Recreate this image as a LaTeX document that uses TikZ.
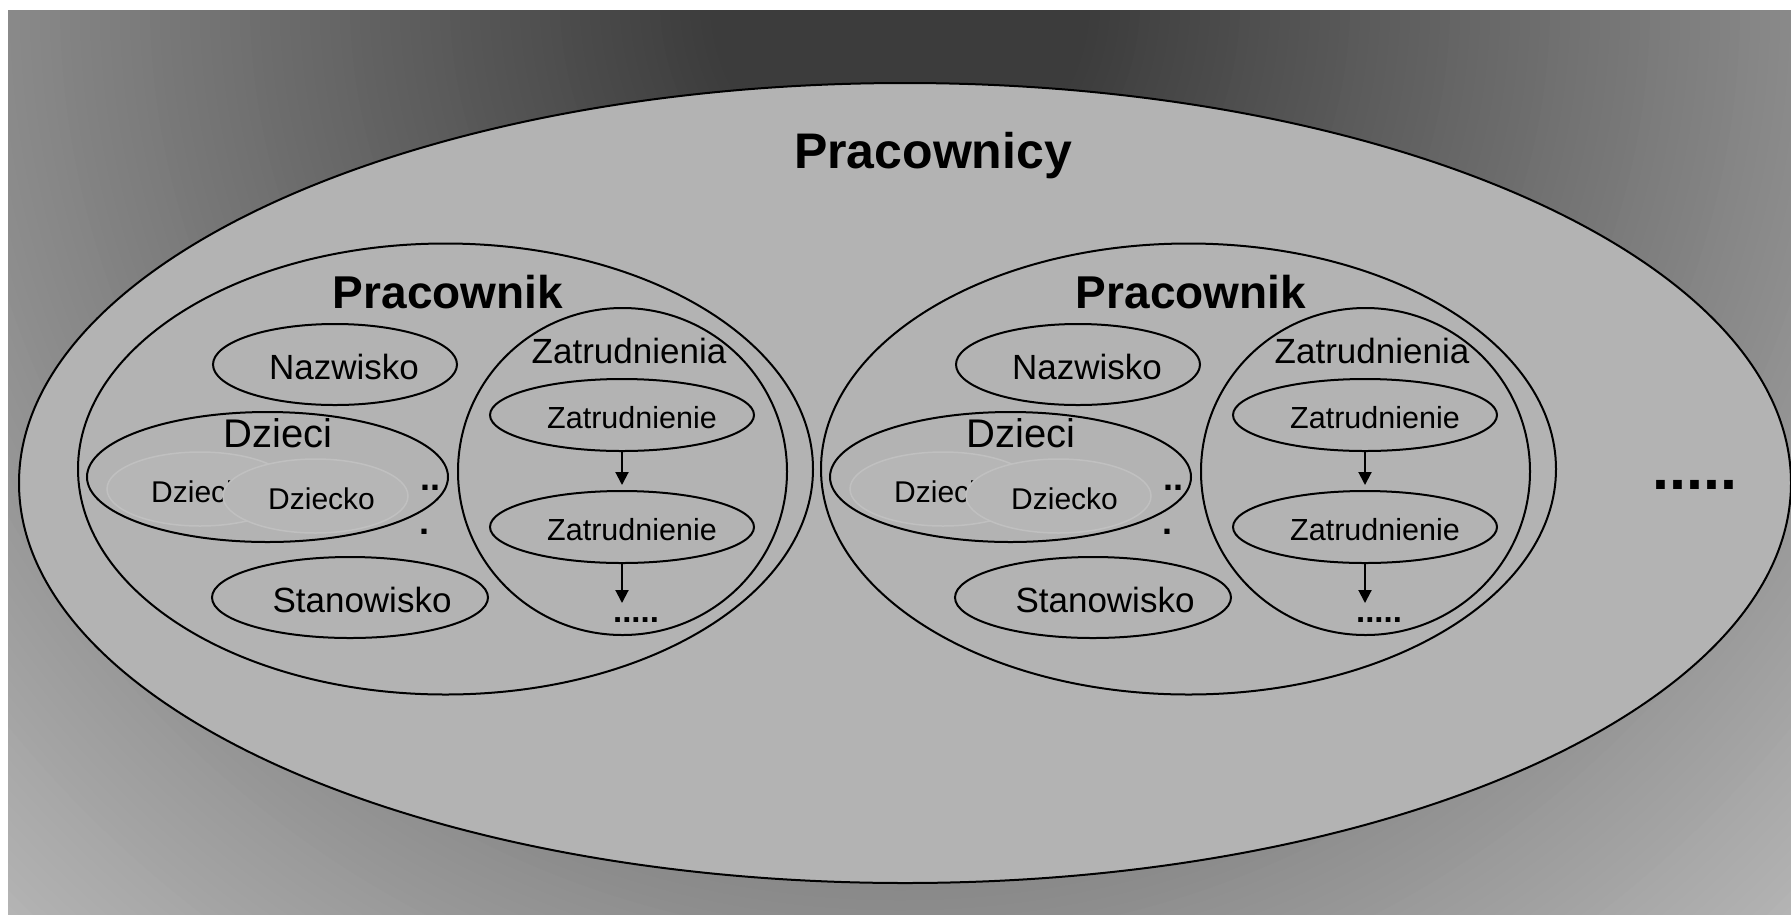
\documentclass[tikz,border=0pt]{standalone}
\usepackage{fontspec}
\setmainfont{Liberation Sans}
\usetikzlibrary{shapes.geometric,arrows.meta}
\definecolor{fillg}{HTML}{B3B3B3}
\definecolor{kidfill}{HTML}{B6B6B6}
\definecolor{kidline}{HTML}{C0C0C0}
\begin{document}
\begin{tikzpicture}[x=1pt,y=-1pt,
  ell/.style={ellipse, draw=black, line width=2pt, fill=fillg, inner sep=0pt, outer sep=0pt},
  kid/.style={ellipse, draw=kidline, line width=1.5pt, fill=kidfill, inner sep=0pt, outer sep=0pt},
  lbl/.style={inner sep=0pt, anchor=base, text=black},
  arr/.style={line width=2pt, -{Triangle[width=13pt,length=13pt]}}]
\fill[white] (0,0) rectangle (1791,914);
\useasboundingbox (0,0) rectangle (1791,914);
\begin{scope}
\clip (8,10) rectangle (1791,914);
\foreach \r in {1500,1490,...,10}{
  \pgfmathsetmacro{\g}{min(180,max(60,39+0.11*\r))/255}
  \definecolor{ringc}{gray}{\g}
  \fill[ringc] (900,0) circle[radius=\r pt];
}
\node[ell, minimum width=1772pt, minimum height=800pt] (all) at (905,483) {};
\node[lbl, font=\fontsize{50pt}{60pt}\selectfont\bfseries] (title) at (933,168) {Pracownicy};
\foreach \o/\s in {0/L,743/R}{
  \node[ell, minimum width=735pt, minimum height=451pt] (prac\s) at (445.5+\o,469) {};
  \node[lbl, font=\fontsize{46pt}{55pt}\selectfont\bfseries] (pracT\s) at (448+\o,308) {Pracownik};
  \node[ell, minimum width=244pt, minimum height=81pt] (naz\s) at (335+\o,364.5) {};
  \node[lbl, font=\fontsize{35pt}{42pt}\selectfont] (nazT\s) at (344+\o,379) {Nazwisko};
  \node[ell, minimum width=361pt, minimum height=130pt] (dz\s) at (267.5+\o,477) {};
  \node[lbl, font=\fontsize{40pt}{48pt}\selectfont] (dzT\s) at (278+\o,447) {Dzieci};
  \node[kid, minimum width=186pt, minimum height=74pt] (kidA\s) at (200+\o,489) {};
  \node[lbl, anchor=base west, font=\fontsize{30pt}{36pt}\selectfont] (kidAt\s) at (151+\o,502) {Dziecko};
  \node[kid, minimum width=185pt, minimum height=74pt] (kidB\s) at (315.5+\o,496) {};
  \node[lbl, anchor=base west, font=\fontsize{30pt}{36pt}\selectfont] (kidBt\s) at (268+\o,509) {Dziecko};
  \node[lbl, font=\fontsize{36pt}{42pt}\selectfont\bfseries] (dotsA\s) at (430+\o,490) {..};
  \node[lbl, font=\fontsize{36pt}{42pt}\selectfont\bfseries] (dotsB\s) at (424+\o,534) {.};
  \node[ell, minimum width=276pt, minimum height=81pt] (stan\s) at (350+\o,597.5) {};
  \node[lbl, font=\fontsize{35pt}{42pt}\selectfont] (stanT\s) at (362+\o,612) {Stanowisko};
  \node[ell, minimum width=329pt, minimum height=327pt] (zat\s) at (622.5+\o,471.5) {};
  \node[lbl, font=\fontsize{35pt}{42pt}\selectfont] (zatT\s) at (629+\o,363) {Zatrudnienia};
  \node[ell, minimum width=264pt, minimum height=72pt] (zA\s) at (622+\o,415) {};
  \node[lbl, font=\fontsize{30.5pt}{36pt}\selectfont] (zAt\s) at (632+\o,428) {Zatrudnienie};
  \node[ell, minimum width=264pt, minimum height=72pt] (zB\s) at (622+\o,527) {};
  \node[lbl, font=\fontsize{30.5pt}{36pt}\selectfont] (zBt\s) at (632+\o,540) {Zatrudnienie};
  \coordinate (zend\s) at (622+\o,603);
  \draw[arr, shorten >=6pt] (zA\s.south) -- (zB\s.north);
  \draw[arr] (zB\s.south) -- (zend\s);
  \node[lbl, font=\fontsize{33pt}{40pt}\selectfont\bfseries] (zdots\s) at (636+\o,622.5) {.....};
}
\node[lbl, font=\fontsize{61pt}{70pt}\selectfont\bfseries] (more) at (1695,489.5) {.....};
\end{scope}
\end{tikzpicture}
\end{document}
